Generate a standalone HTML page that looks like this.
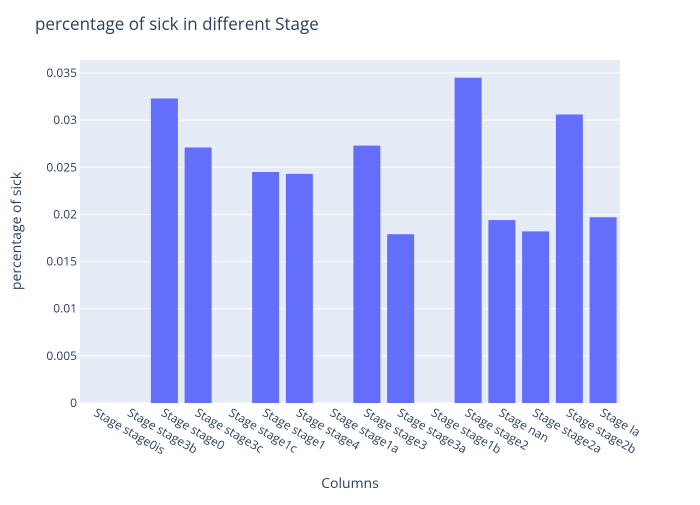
<!DOCTYPE html>
<html><head><meta charset="utf-8"><style>
body{margin:0;background:#fff;font-family:"Liberation Sans",sans-serif}
text{font-family:"Open Sans","Liberation Sans",sans-serif}
</style></head><body>
<svg id="chart" width="700" height="500">
<rect width="700" height="500" fill="#fff"/>
<rect x="80" y="60" width="540" height="343" fill="#e5ecf6"/>
<g id="grid"></g><g id="bars"></g><g id="yticks"></g><g id="xticks"></g>
<text x="35" y="30" font-size="17" fill="#2a3f5f">percentage of sick in different Stage</text>
<text x="350" y="488" font-size="14" fill="#2a3f5f" text-anchor="middle">Columns</text>
<text transform="translate(21,231) rotate(-90)" font-size="14" fill="#2a3f5f" text-anchor="middle">percentage of sick</text>
</svg>
<script>
const categories=["Stage stage0is","Stage stage3b","Stage stage0","Stage stage3c","Stage stage1c","Stage stage1","Stage stage4","Stage stage1a","Stage stage3","Stage stage3a","Stage stage1b","Stage stage2","Stage nan","Stage stage2a","Stage stage2b","Stage Ia"];
const values=[0,0,0.0323,0.0271,0,0.0245,0.0243,0,0.0273,0.0179,0,0.0345,0.0194,0.0182,0.0306,0.0197];
const yTicks=[0,0.005,0.01,0.015,0.02,0.025,0.03,0.035];
const yTickLabels=["0","0.005","0.01","0.015","0.02","0.025","0.03","0.035"];
const NS="http://www.w3.org/2000/svg";
const x0=80,x1=620,yb=403,yt=60,ymax=0.035*343/330;
const bw=(x1-x0)/categories.length;
const X=i=>x0+bw*(i+0.5);
const Y=v=>yb-(v/ymax)*(yb-yt);
function mk(tag,attrs,parent){const e=document.createElementNS(NS,tag);for(const k in attrs)e.setAttribute(k,attrs[k]);document.getElementById(parent).appendChild(e);return e;}
yTicks.forEach((t,i)=>{
 const g=mk("line",{x1:x0,x2:x1,y1:Y(t),y2:Y(t),stroke:"#fff","stroke-width":1},"grid");
 
 
 const l=mk("text",{x:x0-3,y:Y(t)+4,"font-size":12,fill:"#2a3f5f","text-anchor":"end"},"yticks");
 l.textContent=yTickLabels[i];
 
 
});
values.forEach((v,i)=>{
 const r=mk("rect",{x:X(i)-bw*0.4,width:bw*0.8,y:Y(v),height:yb-Y(v),fill:"#636efa"},"bars");
 
 
});
categories.forEach((c,i)=>{
 const t=mk("text",{transform:`translate(${X(i)-4},${yb+12}) rotate(30)`,"font-size":12,fill:"#2a3f5f","text-anchor":"start"},"xticks");
 t.textContent=c;
 
 
});
</script>
</body></html>
